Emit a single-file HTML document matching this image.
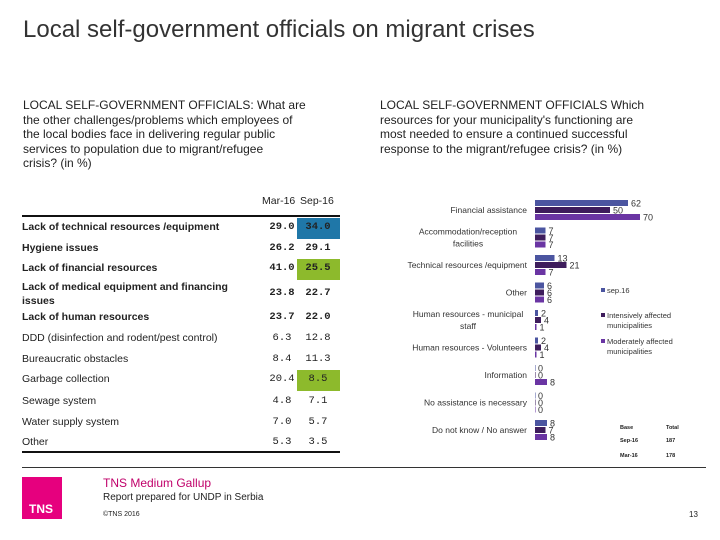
<!DOCTYPE html>
<html><head><meta charset="utf-8">
<style>
body{margin:0;width:720px;height:540px;background:#fff;position:relative;overflow:hidden;font-family:"Liberation Sans",sans-serif;color:#222}
.abs{position:absolute}
#title{left:23px;top:16px;font-size:24px;color:#333;white-space:nowrap}
.q{font-size:12px;line-height:14.5px;color:#222;white-space:nowrap}
#tbl .row{position:absolute;left:22px;font-size:10.5px;white-space:nowrap}
#tbl .v{position:absolute;font-size:10.5px;text-align:center;width:40px;font-family:"Liberation Mono",monospace}
</style></head><body>
<div id="title" class="abs">Local self-government officials on migrant crises</div>
<div class="abs q" style="left:23px;top:98px">LOCAL SELF-GOVERNMENT OFFICIALS: What are<br>the other challenges/problems which employees of<br>the local bodies face in delivering regular public<br>services to population due to migrant/refugee<br>crisis? (in %)</div>
<div class="abs q" style="left:380px;top:98px">LOCAL SELF-GOVERNMENT OFFICIALS Which<br>resources for your municipality's functioning are<br>most needed to ensure a continued successful<br>response to the migrant/refugee crisis? (in %)</div>

<div id="tbl">
<div class="abs" style="left:262px;top:195px;font-size:10.5px">Mar-16</div>
<div class="abs" style="left:300px;top:195px;font-size:10.5px">Sep-16</div>
<div class="abs" style="left:22px;top:215px;width:318px;height:2px;background:#111"></div>
<div class="abs" style="left:22px;top:451px;width:318px;height:2px;background:#111"></div>
</div>

<svg id="chart" class="abs" style="left:0;top:0" width="720" height="540"></svg>

<div class="abs" style="left:22px;top:467px;width:684px;height:1px;background:#333"></div>
<div class="abs" style="left:22px;top:477px;width:40px;height:42px;background:#e6007e"><span style="position:absolute;left:7px;bottom:3px;color:#fff;font-weight:bold;font-size:12px">TNS</span></div>
<div class="abs" style="left:103px;top:476px;font-size:12px;color:#c0006a">TNS Medium Gallup</div>
<div class="abs" style="left:103px;top:492px;font-size:10px">Report prepared for UNDP in Serbia</div>
<div class="abs" style="left:103px;top:511px;font-size:7px">©TNS 2016</div>
<div class="abs" style="left:689px;top:510px;font-size:8px">13</div>

<script>
// Table data
const tLabels=["Lack of technical resources /equipment","Hygiene issues","Lack of financial resources","Lack of medical equipment and financing issues","Lack of human resources","DDD (disinfection and rodent/pest control)","Bureaucratic obstacles","Garbage collection","Sewage system","Water supply system","Other"];
const tMar=[29.0,26.2,41.0,23.8,23.7,6.3,8.4,20.4,4.8,7.0,5.3];
const tSep=[34.0,29.1,25.5,22.7,22.0,12.8,11.3,8.5,7.1,5.7,3.5];
const tBold=[1,1,1,1,1,0,0,0,0,0,0];
const tHi=["#1f77a8","","#8dba2c","","","","","#8dba2c","","",""];
const rowY=[228,249,269,294,318,339,360,380,402,423,443];
const tbl=document.getElementById('tbl');
tLabels.forEach((l,i)=>{
  const y=rowY[i];
  if(tHi[i]){const h=document.createElement('div');h.className='abs';
    
    
    h.style.cssText=`left:297px;top:${y-10}px;width:43px;height:21px;background:${tHi[i]}`;tbl.appendChild(h);}
  const r=document.createElement('div');r.className='row';
  
  
  r.style.top=(y-7)+'px';r.style.fontWeight=tBold[i]?'bold':'normal';
  if(i==3){r.style.whiteSpace='normal';r.style.width='240px';r.style.top=(y-14)+'px';r.style.lineHeight='14px';}
  r.textContent=l;tbl.appendChild(r);
  [[tMar[i],262],[tSep[i],298]].forEach(([v,x])=>{
    const c=document.createElement('div');c.className='v';
    
    
    c.style.left=x+'px';c.style.top=(y-7)+'px';c.style.fontWeight=tBold[i]?'bold':'normal';
    c.textContent=v.toFixed(1);tbl.appendChild(c);
  });
});

// Chart data
const cats=["Financial assistance","Accommodation/reception|facilities","Technical resources /equipment","Other","Human resources - municipal|staff","Human resources - Volunteers","Information","No assistance is necessary","Do not know / No answer"];
const sep16=[62,7,13,6,2,2,0,0,8];
const intensive=[50,7,21,6,4,4,0,0,7];
const moderate=[70,7,7,6,1,1,8,0,8];
const seriesNames=["sep.16","Intensively affected|municipalities","Moderately affected|municipalities"];
const colors=["#4b55a0","#3e1d5c","#6a35a3"];
const x0=535, kx=1.5, y0=210, step=27.5, bh=6;
const xs=v=>x0+v*kx;
const svg=document.getElementById('chart');const NS='http://www.w3.org/2000/svg';
function mk(t,a){const e=document.createElementNS(NS,t);for(const k in a)e.setAttribute(k,a[k]);svg.appendChild(e);return e;}
[sep16,intensive,moderate].forEach((s,si)=>{
  s.forEach((v,i)=>{
    const cy=y0+i*step+(si-1)*7;
    const r=mk('rect',{x:x0,y:cy-bh/2,width:Math.max(v*kx,0.5),height:bh,fill:colors[si]});
    
    
    const t=mk('text',{x:xs(v)+3,y:cy+3.5,'font-size':9,fill:'#333'});
    
    
    t.textContent=v;
  });
});
cats.forEach((c,i)=>{
  const parts=c.split('|');const cy=y0+i*step;
  parts.forEach((p,j)=>{
    const t=mk('text',{x:parts.length>1?468:527,y:cy+3+(j-(parts.length-1)/2)*12,'font-size':8.5,fill:'#333','text-anchor':parts.length>1?'middle':'end'});
    
    
    t.textContent=p;
  });
});
const legY=[291,316,342];
seriesNames.forEach((n,i)=>{
  const r=mk('rect',{x:601,y:legY[i]-3,width:4,height:4,fill:colors[i]});
  
  
  n.split('|').forEach((p,j)=>{
    const t=mk('text',{x:607,y:legY[i]+2+j*10,'font-size':7.5,fill:'#333'});
    
    
    t.textContent=p;
  });
});
[["Base","Total",429],["Sep-16","187",442],["Mar-16","178",457]].forEach(r=>{
  const a=mk('text',{x:620,y:r[2],'font-size':5.5,'font-weight':'bold',fill:'#222'});
  
  a.textContent=r[0];
  const b=mk('text',{x:666,y:r[2],'font-size':5.5,'font-weight':'bold',fill:'#222'});
  
  b.textContent=r[1];
});
</script>
</body></html>
